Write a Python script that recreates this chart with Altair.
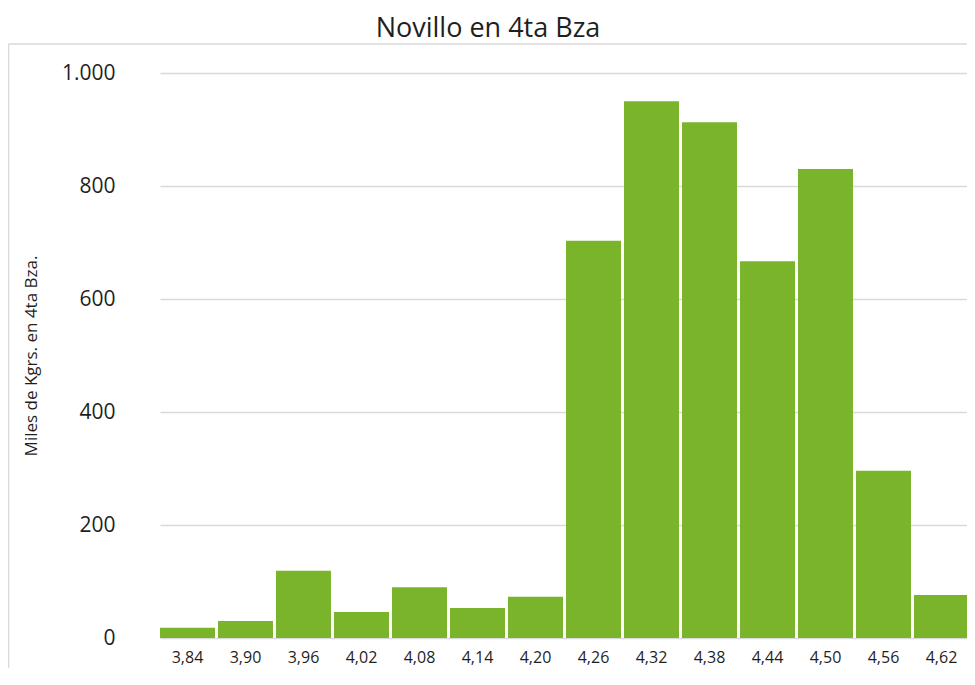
import altair as alt
import pandas as pd

categories = ["3,84", "3,90", "3,96", "4,02", "4,08", "4,14", "4,20",
              "4,26", "4,32", "4,38", "4,44", "4,50", "4,56", "4,62"]
values = [18, 30, 119, 46, 90, 53, 73, 703, 950, 913, 667, 830, 296, 76]
y_ticks = [0, 200, 400, 600, 800, 1000]

df = pd.DataFrame({"precio": categories, "kg": values})

FONT = "Open Sans"
W, H = 830, 565
GRID = "#d9d9d9"
TXT = "#1f1f1f"

bars = alt.Chart(df).mark_bar(color="#79B42A").encode(
    x=alt.X("precio:N", sort=None, title=None,
            scale=alt.Scale(range=[23, 832], paddingInner=0.052, paddingOuter=0),
            axis=alt.Axis(labelAngle=0, labelFontSize=16, labelColor=TXT, labelFont=FONT,
                          ticks=False, domain=False, labelPadding=11, grid=False)),
    y=alt.Y("kg:Q", scale=alt.Scale(domain=[0, 1000], nice=False),
            title="Miles de Kgrs. en 4ta Bza.",
            axis=alt.Axis(values=y_ticks,
                          labelExpr="replace(format(datum.value, ','), ',', '.')",
                          labelFontSize=21, labelColor=TXT, labelFont=FONT, labelPadding=22,
                          ticks=False, domain=False, grid=True, gridColor=GRID, gridWidth=1.5,
                          titleFont=FONT, titleFontSize=17, titleFontWeight="normal",
                          titleColor=TXT, titleAngle=270, titleAlign="center",
                          titleBaseline="middle", titleX=-106, titleY=H / 2)),
)

dummy = pd.DataFrame({"a": [0]})
border_v = alt.Chart(dummy).mark_rule(color=GRID, strokeWidth=1.5).encode(
    x=alt.value(-128.5), y=alt.value(-29), y2=alt.value(H + 40))
border_h = alt.Chart(dummy).mark_rule(color=GRID, strokeWidth=1.5).encode(
    x=alt.value(-128.5), x2=alt.value(W + 5), y=alt.value(-29))

chart = alt.layer(bars, border_v, border_h).properties(
    width=W, height=H,
    autosize="none",
    padding={"left": 129, "top": 65, "right": 0, "bottom": 30},
    title=alt.TitleParams("Novillo en 4ta Bza", fontSize=27, font=FONT, fontWeight="normal",
                          color=TXT, anchor="middle", frame="group", dx=-64, dy=4),
).configure_view(stroke=None)

chart.save("out.html", embed_options={"renderer": "svg", "actions": False})
